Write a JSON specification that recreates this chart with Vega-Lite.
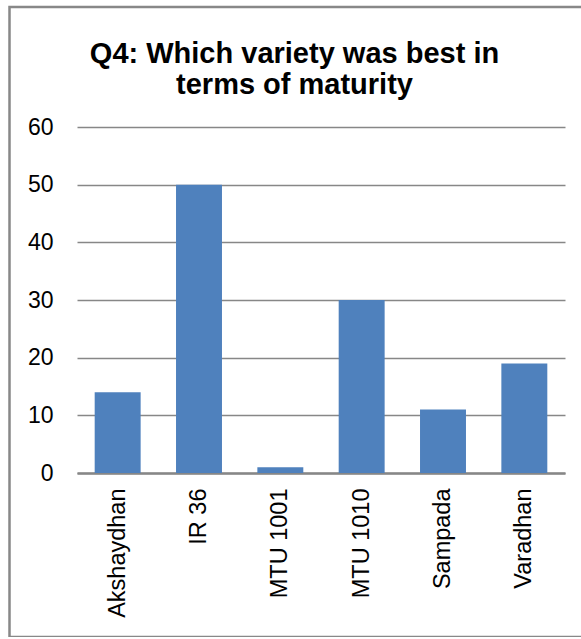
{
  "$schema": "https://vega.github.io/schema/vega-lite/v6.json",
  "autosize": {"type": "none"},
  "padding": {"left": 9.5, "top": 7, "right": 0, "bottom": 0},
  "width": 581,
  "height": 630,
  "background": "white",
  "title": {
    "text": ["Q4: Which variety was best in", "terms of maturity"],
    "font": "Liberation Sans",
    "fontSize": 29,
    "fontWeight": "bold",
    "color": "#000000",
    "anchor": "middle",
    "baseline": "alphabetic",
    "lineHeight": 31,
    "dx": -5.5,
    "dy": 120
  },
  "data": {
    "values": [
      {"variety": "Akshaydhan", "count": 14},
      {"variety": "IR 36", "count": 50},
      {"variety": "MTU 1001", "count": 1},
      {"variety": "MTU 1010", "count": 30},
      {"variety": "Sampada", "count": 11},
      {"variety": "Varadhan", "count": 19}
    ]
  },
  "mark": {"type": "bar", "color": "#4F81BD"},
  "encoding": {
    "x": {
      "field": "variety",
      "type": "nominal",
      "sort": null,
      "scale": {"range": [67.5, 555.5], "paddingInner": 0.435, "paddingOuter": 0.2175},
      "axis": {
        "title": null,
        "offset": -164,
        "domainColor": "#878787",
        "domainWidth": 2.5,
        "ticks": false,
        "tickSize": 0,
        "grid": false,
        "labelAngle": -90,
        "labelAlign": "right",
        "labelBaseline": "middle",
        "labelPadding": 15,
        "labelFont": "Liberation Sans",
        "labelFontSize": 23.5,
        "labelColor": "#000000"
      }
    },
    "y": {
      "field": "count",
      "type": "quantitative",
      "scale": {"domain": [0, 60], "nice": false, "range": [466, 120]},
      "axis": {
        "title": null,
        "values": [0, 10, 20, 30, 40, 50, 60],
        "offset": -67.5,
        "domain": false,
        "ticks": false,
        "tickSize": 0,
        "grid": true,
        "gridColor": "#878787",
        "gridWidth": 1.5,
        "labelPadding": 24,
        "labelFont": "Liberation Sans",
        "labelFontSize": 23,
        "labelColor": "#000000",
        "labelBaseline": "middle"
      }
    }
  },
  "config": {
    "view": {"stroke": "#888888", "strokeWidth": 2.5}
  }
}
